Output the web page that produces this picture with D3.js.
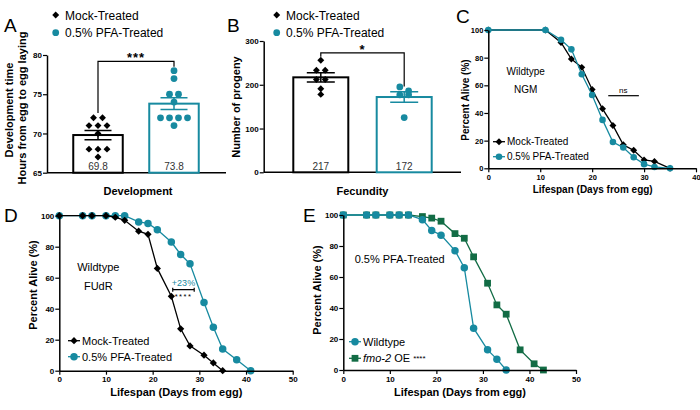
<!DOCTYPE html>
<html><head><meta charset="utf-8">
<script src="https://cdn.jsdelivr.net/npm/d3@7"></script>
<style>body{margin:0;background:#fff;} svg{display:block;}</style>
</head><body><svg width="700" height="410"></svg>
<script>
// ---------- DATA ----------
const groups = ["Mock-Treated", "0.5% PFA-Treated"];
// Panel A: development time (hours)
const devMock = [72, 72, 71, 71, 71, 70, 68, 68, 68, 67];
const devPfa  = [78, 77, 75, 75, 74, 72, 72, 72, 72, 71];
const devMean = [69.8, 73.8];
const devSem  = [0.59, 0.76];
const devTicks = [65, 70, 75, 80];
// Panel B: fecundity
const fecMock = [256, 233, 233, 212, 212, 191, 178];
const fecPfa  = [195, 186, 177, 177, 125];
const fecMean = [217, 172];
const fecSem  = [10.5, 12.2];
const fecTicks = [0, 100, 200, 300];
// Panel C: NGM lifespan
const cDays = [0, 11, 14, 16, 18, 20, 22, 24, 26, 28, 30, 32, 35];
const cMock = [100, 100, 91, 79, 73, 57, 43, 31, 17, 13, 6, 5, 0];
const cPfa  = [100, 100, 93, 86, 68, 53, 35, 19, 15, 8, 3, 1, 0];
const cXTicks = [0, 10, 20, 30, 40];
// Panel D: FUdR lifespan
const dDaysMock = [0, 5, 7, 10, 12, 14, 17, 19, 21, 24, 26, 28, 31, 33, 35];
const dMock     = [100, 100, 100, 100, 99, 97, 90, 88, 66, 48, 27, 16, 10, 5, 0];
const dDaysPfa  = [0, 5, 7, 10, 12, 14, 17, 19, 21, 24, 26, 28, 31, 33, 35, 38, 41];
const dPfa      = [100, 100, 100, 100, 100, 100, 96, 95, 91, 83, 75, 69, 44, 28, 14, 7, 0];
// Panel E: PFA-treated, wildtype vs fmo-2 OE
const eDaysWt = [0, 5, 7, 10, 12, 14, 17, 19, 21, 24, 26, 28, 31, 33, 35];
const eWt     = [100, 100, 100, 100, 100, 100, 97, 90, 87, 77, 66, 27, 13, 7, 0];
const eDaysOe = [0, 5, 7, 10, 12, 14, 17, 19, 21, 24, 26, 28, 31, 33, 35, 38, 41, 43];
const eOe     = [100, 100, 100, 100, 100, 100, 99, 98, 96, 88, 85, 73, 56, 42, 36, 13, 4, 0];
const lsXTicks = [0, 10, 20, 30, 40, 50];
const pctTicks = [0, 20, 40, 60, 80, 100];

// ---------- STYLE ----------
const TEAL = "#178aa0", GREEN = "#126c45", BLACK = "#000";
const FONT = '"Liberation Sans", Arial, Helvetica, sans-serif';
const svg = d3.select("svg").style("font-family", FONT);

function marker(g, type, x, y, size, color) {
  const sym = type === "circle" ? d3.symbolCircle : d3.symbolSquare;
  g.append("path")
    .attr("d", d3.symbol(sym, size)())
    .attr("fill", color)
    .attr("transform", `translate(${x},${y})` + (type === "diamond" ? " rotate(45)" : ""));
}
function txt(g, x, y, s, size, opts = {}) {
  return g.append("text").attr("x", x).attr("y", y).text(s)
    .attr("font-size", size)
    .attr("font-weight", opts.bold ? "bold" : "normal")
    .attr("text-anchor", opts.anchor || "start")
    .attr("fill", opts.fill || "#000");
}
function vlabel(g, cx, cy, s, size, bold = true) {
  g.append("text").attr("transform", `translate(${cx},${cy}) rotate(-90)`)
    .attr("text-anchor", "middle").attr("dy", "0.35em")
    .attr("font-size", size).attr("font-weight", bold ? "bold" : "normal").text(s);
}
function styleAxis(a, fs) {
  a.select(".domain").attr("stroke", "#000").attr("stroke-width", 1.5);
  a.selectAll(".tick line").attr("stroke", "#000").attr("stroke-width", 1.2);
  a.selectAll(".tick text").attr("font-size", fs).attr("font-weight", "bold")
    .attr("font-family", FONT).attr("fill", "#000");
}
function swarm(vals, y, spacing, tol) {
  const pts = vals.map(v => ({ v, py: y(v) })).sort((a, b) => a.py - b.py);
  const bins = [];
  pts.forEach(p => {
    const b = bins[bins.length - 1];
    if (b && p.py - b[0].py <= tol) b.push(p); else bins.push([p]);
  });
  bins.forEach(b => b.forEach((p, i) => p.dx = (i - (b.length - 1) / 2) * spacing));
  return pts;
}

// ---------- BAR PANELS ----------
function barPanel(o) {
  const g = svg.append("g");
  const y = d3.scaleLinear().domain(o.ydom).range(o.yr);
  const x = d3.scalePoint().domain(groups).range(o.xc);
  const base = y(o.ydom[0]);
  g.append("line").attr("x1", o.axisX).attr("x2", o.xEnd).attr("y1", base).attr("y2", base)
    .attr("stroke", "#000").attr("stroke-width", 1.5);
  const data = [o.mock, o.pfa];
  groups.forEach((name, i) => {
    const cx = x(name), col = i ? TEAL : BLACK;
    g.append("rect").attr("x", cx - o.bw / 2).attr("y", y(o.mean[i]))
      .attr("width", o.bw).attr("height", base - y(o.mean[i]))
      .attr("fill", "#fff").attr("stroke", col).attr("stroke-width", 2);
    swarm(data[i], y, o.spacing, 5).forEach(p =>
      marker(g, i ? "circle" : "diamond", cx + p.dx, p.py, i ? 36 : 24, col));
    const y1 = y(o.mean[i] + o.sem[i]), y0 = y(o.mean[i] - o.sem[i]);
    g.append("path").attr("d", `M${cx},${y0}V${y1}M${cx - o.cap / 2},${y1}H${cx + o.cap / 2}M${cx - o.cap / 2},${y0}H${cx + o.cap / 2}`)
      .attr("stroke", col).attr("stroke-width", 1.5).attr("fill", "none");
    txt(g, cx, base - 2.8, o.labels[i], 10, { anchor: "middle", fill: "#333" });
  });
  const b = o.bracket;
  const xl = x(groups[0]), xr = x(groups[1]);
  g.append("path").attr("d", `M${xl},${y(b.left)}V${y(b.top)}H${xr}V${y(b.right)}`)
    .attr("fill", "none").attr("stroke", "#000").attr("stroke-width", 1.2);
  txt(g, (xl + xr) / 2, y(b.top) + 1, b.text, 13, { anchor: "middle", bold: true }).attr("letter-spacing", 1);
  const ax = g.append("g").attr("transform", `translate(${o.axisX},0)`)
    .call(d3.axisLeft(y).tickValues(o.ticks).tickSize(4).tickSizeOuter(0).tickPadding(1));
  styleAxis(ax, 8);
  return { g, x, y };
}

const A = barPanel({
  ydom: [65, 80], yr: [172.7, 55], xc: [98, 174], axisX: 47, xEnd: 226, bw: 49.5,
  mock: devMock, pfa: devPfa, mean: devMean, sem: devSem, ticks: devTicks,
  spacing: 9, cap: 27, labels: ["69.8", "73.8"],
  bracket: { top: 79.2, left: 72.6, right: 78.5, text: "***" }
});
const B = barPanel({
  ydom: [0, 300], yr: [172.3, 41], xc: [320.8, 404.2], axisX: 263.7, xEnd: 461, bw: 55,
  mock: fecMock, pfa: fecPfa, mean: fecMean, sem: fecSem, ticks: fecTicks,
  spacing: 8.8, cap: 28, labels: ["217", "172"],
  bracket: { top: 273, left: 264, right: 196, text: "*" }
});
vlabel(svg, 9, 110, "Development time", 11);
vlabel(svg, 22.5, 108, "Hours from egg to egg laying", 11);
vlabel(svg, 236, 107, "Number of progeny", 11);
txt(svg, 138, 195, "Development", 11, { anchor: "middle", bold: true });
txt(svg, 362.5, 195, "Fecundity", 11, { anchor: "middle", bold: true });
[[55.7, 65], [276.7, 286]].forEach(([mx, tx]) => {
  marker(svg, "diamond", mx, 15, 24, BLACK);
  txt(svg, tx, 19.5, groups[0], 12);
  marker(svg, "circle", mx, 32.7, 36, TEAL);
  txt(svg, tx, 37, groups[1], 12);
});

// ---------- SURVIVAL PANELS ----------
function survPanel(o) {
  const g = svg.append("g");
  const x = d3.scaleLinear().domain([0, o.xmax]).range(o.xr);
  const y = d3.scaleLinear().domain([0, 100]).range(o.yr);
  const line = d3.line().x(d => x(d[0])).y(d => y(d[1]));
  o.series.forEach(s => {
    const pts = s.days.map((d, i) => [d, s.vals[i]]);
    g.append("path").attr("d", line(pts)).attr("fill", "none")
      .attr("stroke", s.color).attr("stroke-width", 1.3);
    pts.forEach(p => marker(g, s.type, x(p[0]), y(p[1]), s.size, s.color));
  });
  const ay = g.append("g").attr("transform", `translate(${o.xr[0]},0)`)
    .call(d3.axisLeft(y).tickValues(pctTicks).tickSize(4).tickSizeOuter(0).tickPadding(1));
  styleAxis(ay, o.fs);
  const axx = g.append("g").attr("transform", `translate(0,${o.yr[0]})`)
    .call(d3.axisBottom(x).tickValues(o.xticks).tickSize(4).tickSizeOuter(0).tickPadding(2));
  styleAxis(axx, o.fs);
  return { g, x, y };
}
function legendItem(g, x, y, type, size, color, label, fs) {
  g.append("line").attr("x1", x - 6).attr("x2", x + 6).attr("y1", y).attr("y2", y)
    .attr("stroke", color).attr("stroke-width", 1.3);
  marker(g, type, x, y, size, color);
  return txt(g, x + 8, y + fs * 0.36, label, fs);
}

// C
const C = survPanel({
  xmax: 40, xr: [488.3, 696], yr: [168.3, 30], xticks: cXTicks, fs: 7.5,
  series: [
    { days: cDays, vals: cMock, color: BLACK, type: "diamond", size: 24 },
    { days: cDays, vals: cPfa, color: TEAL, type: "circle", size: 34 }
  ]
});
txt(svg, 525.7, 75, "Wildtype", 10, { anchor: "middle" });
txt(svg, 525.7, 93, "NGM", 10, { anchor: "middle" });
svg.append("line").attr("x1", C.x(23.1)).attr("x2", C.x(29)).attr("y1", C.y(52.5)).attr("y2", C.y(52.5))
  .attr("stroke", "#000").attr("stroke-width", 1.2);
txt(svg, C.x(26), C.y(52.5) - 3, "ns", 8, { anchor: "middle" });
legendItem(svg, 499, 141.7, "diamond", 24, BLACK, groups[0], 10);
legendItem(svg, 499, 156.7, "circle", 34, TEAL, groups[1], 10);
vlabel(svg, 465.5, 100, "Percent Alive (%)", 10);
txt(svg, 592.7, 192.5, "Lifespan (Days from egg)", 10, { anchor: "middle", bold: true });

// D
const D = survPanel({
  xmax: 50, xr: [59.3, 292.7], yr: [370.7, 215.7], xticks: lsXTicks, fs: 8,
  series: [
    { days: dDaysPfa, vals: dPfa, color: TEAL, type: "circle", size: 44 },
    { days: dDaysMock, vals: dMock, color: BLACK, type: "diamond", size: 26 }
  ]
});
txt(svg, 98.3, 271, "Wildtype", 11, { anchor: "middle" });
txt(svg, 98.3, 290, "FUdR", 11, { anchor: "middle" });
txt(svg, 183.5, 285.5, "+23%", 9, { anchor: "middle", fill: TEAL });
{
  const x1 = D.x(24.3), x2 = D.x(28.9), yb = 289.7;
  svg.append("path").attr("d", `M${x1},${yb - 2}V${yb + 2}M${x1},${yb}H${x2}M${x2},${yb - 2}V${yb + 2}`)
    .attr("stroke", "#000").attr("stroke-width", 1.2).attr("fill", "none");
  txt(svg, (x1 + x2) / 2, 298.5, "****", 7.5, { anchor: "middle" }).attr("letter-spacing", 1.5);
}
legendItem(svg, 74, 340.7, "diamond", 26, BLACK, groups[0], 11);
legendItem(svg, 74, 356.7, "circle", 44, TEAL, groups[1], 11);
vlabel(svg, 33, 285, "Percent Alive (%)", 11);
txt(svg, 176.3, 396, "Lifespan (Days from egg)", 11, { anchor: "middle", bold: true });

// E
const E = survPanel({
  xmax: 50, xr: [343.3, 576], yr: [370, 215], xticks: lsXTicks, fs: 8,
  series: [
    { days: eDaysOe, vals: eOe, color: GREEN, type: "square", size: 46 },
    { days: eDaysWt, vals: eWt, color: TEAL, type: "circle", size: 44 }
  ]
});
txt(svg, 399.7, 263.3, "0.5% PFA-Treated", 11, { anchor: "middle" });
legendItem(svg, 355, 341.7, "circle", 44, TEAL, "Wildtype", 11);
{
  const t = legendItem(svg, 355, 358.3, "square", 46, GREEN, "", 11);
  t.append("tspan").attr("font-style", "italic").text("fmo-2");
  t.append("tspan").text(" OE ");
  t.append("tspan").attr("font-size", 8).attr("dy", -1).text("****");
}
vlabel(svg, 317.5, 290, "Percent Alive (%)", 11);
txt(svg, 460, 396, "Lifespan (Days from egg)", 11, { anchor: "middle", bold: true });

// Panel letters
[["A", 4, 32], ["B", 227, 32], ["C", 456, 23], ["D", 4, 222], ["E", 303, 222]].forEach(([s, x, y]) =>
  txt(svg, x, y, s, 19));
</script>
</body></html>
